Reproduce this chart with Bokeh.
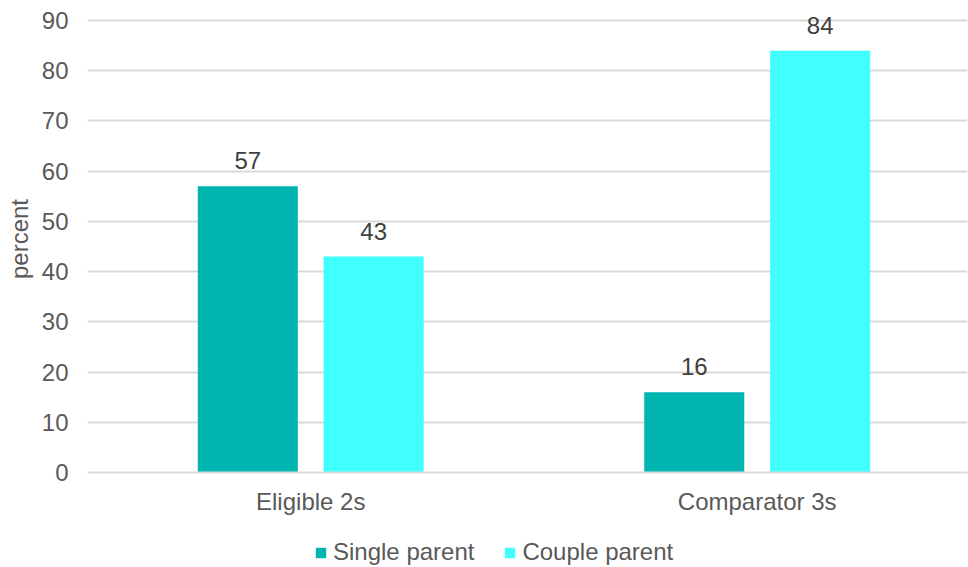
from bokeh.plotting import figure
from bokeh.layouts import column
from bokeh.models import (ColumnDataSource, Legend, LegendItem, Range1d, FixedTicker)
from bokeh.transform import dodge
from bokeh.core.properties import value
from bokeh.embed import file_html
from bokeh.resources import INLINE

categories = ["Eligible 2s", "Comparator 3s"]
single_parent = [57, 16]
couple_parent = [43, 84]
series_names = ["Single parent", "Couple parent"]
y_ticks = [0, 10, 20, 30, 40, 50, 60, 70, 80, 90]

FONT = "Liberation Sans"
C_SINGLE = "#00B5B0"
C_COUPLE = "#3FFFFF"

xpos = [i + 0.5 for i in range(len(categories))]

src = ColumnDataSource(data=dict(
    x=xpos,
    single=single_parent,
    couple=couple_parent,
    single_lbl=[str(v) for v in single_parent],
    couple_lbl=[str(v) for v in couple_parent],
))

p = figure(x_range=Range1d(0, 1.971), y_range=Range1d(0, 93),
           width=968, height=520, output_backend="svg", toolbar_location=None,
           min_border_left=87, min_border_right=1, min_border_top=5, min_border_bottom=48)
p.outline_line_color = None
p.background_fill_color = "white"

OFF = 0.141
W = 0.224
r1 = p.vbar(x=dodge("x", -OFF), top="single", width=W, source=src,
            fill_color=C_SINGLE, line_color=None)
r2 = p.vbar(x=dodge("x", OFF), top="couple", width=W, source=src,
            fill_color=C_COUPLE, line_color=None)

p.text(x=dodge("x", -OFF), y="single", text="single_lbl", source=src,
       text_align="center", text_baseline="bottom", y_offset=-17,
       text_font=value(FONT), text_font_size="24px", text_color="#404040")
p.text(x=dodge("x", OFF), y="couple", text="couple_lbl", source=src,
       text_align="center", text_baseline="bottom", y_offset=-17,
       text_font=value(FONT), text_font_size="24px", text_color="#404040")

# grid
p.xgrid.grid_line_color = None
p.ygrid.grid_line_color = "#D9D9D9"
p.ygrid.grid_line_width = 2
p.yaxis.ticker = FixedTicker(ticks=y_ticks)

# y axis
p.yaxis.axis_line_color = None
p.yaxis.major_tick_line_color = None
p.yaxis.minor_tick_line_color = None
p.yaxis.major_label_standoff = 13
p.yaxis.major_label_text_font = FONT
p.yaxis.major_label_text_font_size = "24px"
p.yaxis.major_label_text_color = "#595959"
p.yaxis.axis_label = "percent"
p.yaxis.axis_label_text_font = FONT
p.yaxis.axis_label_text_font_size = "24px"
p.yaxis.axis_label_text_font_style = "normal"
p.yaxis.axis_label_text_color = "#595959"
p.yaxis.axis_label_standoff = 6

# x axis (category labels)
p.xaxis.ticker = FixedTicker(ticks=xpos)
p.xaxis.major_label_overrides = {x: c for x, c in zip(xpos, categories)}
p.xaxis.axis_line_color = "#D9D9D9"
p.xaxis.axis_line_width = 2
p.xaxis.major_tick_line_color = None
p.xaxis.minor_tick_line_color = None
p.xaxis.major_label_standoff = 9
p.xaxis.major_label_text_font = FONT
p.xaxis.major_label_text_font_size = "24px"
p.xaxis.major_label_text_color = "#595959"

# legend strip below the chart
lg = figure(width=968, height=47, output_backend="svg", toolbar_location=None,
            x_range=Range1d(0, 1), y_range=Range1d(0, 1),
            min_border_left=0, min_border_right=0, min_border_top=0, min_border_bottom=0)
lg.axis.visible = False
lg.grid.visible = False
lg.outline_line_color = None
hidden = ColumnDataSource(data=dict(x=[0.5], top=[0.0]))
d1 = lg.vbar(x="x", top="top", width=0.0, source=hidden, fill_color=C_SINGLE, line_color=None)
d2 = lg.vbar(x="x", top="top", width=0.0, source=hidden, fill_color=C_COUPLE, line_color=None)

legend = Legend(items=[LegendItem(label=series_names[0], renderers=[d1]),
                       LegendItem(label=series_names[1], renderers=[d2])],
                orientation="horizontal", location=(227, 1),
                label_text_font=FONT, label_text_font_size="24px", label_text_color="#595959",
                glyph_width=13, glyph_height=13, label_standoff=6, spacing=29,
                border_line_color=None, background_fill_alpha=0,
                padding=0, margin=0)
lg.add_layout(legend, "center")

layout = column(p, lg, spacing=0)
open("out.html", "w").write(file_html(layout, INLINE))
